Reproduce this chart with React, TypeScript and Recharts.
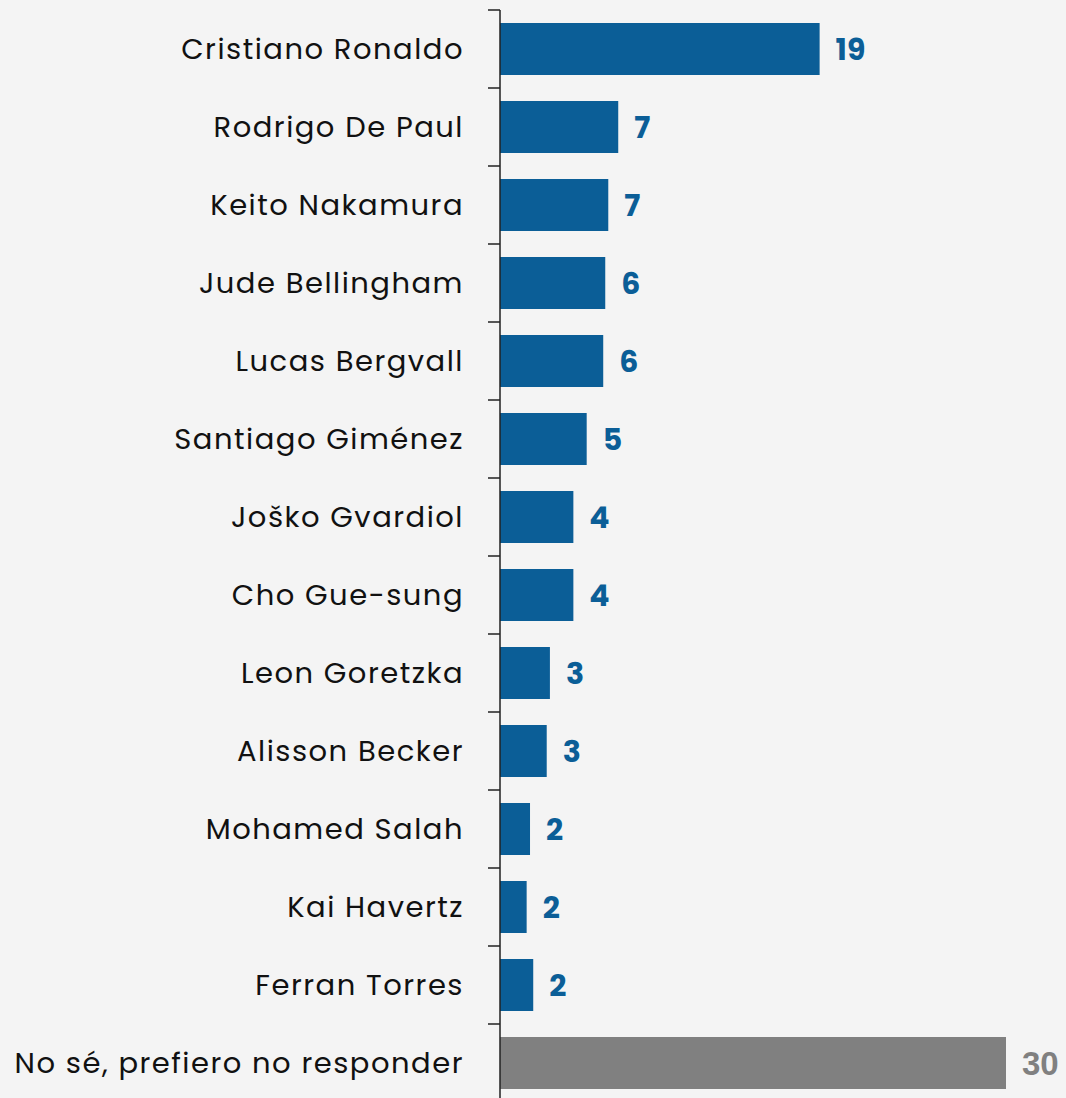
import React from "react";
import { BarChart, Bar, XAxis, YAxis, Cell, LabelList } from "recharts";

// encuesta: jugador favorito (bar lengths, labels as printed)
const players = [
  "Cristiano Ronaldo",
  "Rodrigo De Paul",
  "Keito Nakamura",
  "Jude Bellingham",
  "Lucas Bergvall",
  "Santiago Giménez",
  "Joško Gvardiol",
  "Cho Gue-sung",
  "Leon Goretzka",
  "Alisson Becker",
  "Mohamed Salah",
  "Kai Havertz",
  "Ferran Torres",
  "No sé, prefiero no responder",
];
const votes = [18.95, 7.01, 6.42, 6.24, 6.12, 5.14, 4.35, 4.35, 2.96, 2.77, 1.78, 1.58, 1.97, 30];
const shownLabels = ["19", "7", "7", "6", "6", "5", "4", "4", "3", "3", "2", "2", "2", "30"];
const xDomain = [0, 30];

const BLUE = "#0b5e97";
const GRAY = "#808080";

const W = 1066;
const H = 1102;
const TOP = 10;
const AXIS_W = 500;
const BAND = (H - TOP) / players.length;

const data = players.map((name, i) => ({ name, value: votes[i], label: shownLabels[i] }));

const isOther = (i: number) => i === players.length - 1;

const PlayerTick = (props: any) => {
  const { y, payload, index } = props;
  const top = y - BAND / 2;
  return (
    <g>
      <line x1={AXIS_W - 12} x2={AXIS_W} y1={top} y2={top} stroke="#222" strokeWidth={1.5} />
      {index === players.length - 1 && (
        <line x1={AXIS_W - 12} x2={AXIS_W} y1={top + BAND} y2={top + BAND} stroke="#222" strokeWidth={1.5} />
      )}
      <text
        x={AXIS_W - 36}
        y={y}
        textAnchor="end"
        dominantBaseline="central"
        fill="#111"
        fontSize={29}
        letterSpacing={1.5}
        fontFamily="Poppins, Inter, 'Noto Sans', sans-serif"
      >
        {payload.value}
      </text>
    </g>
  );
};

const ValueLabel = (props: any) => {
  const { x, y, width, height, index } = props;
  const other = isOther(index);
  return (
    <text
      x={x + width + 16}
      y={y + height / 2}
      dominantBaseline="central"
      fill={other ? GRAY : BLUE}
      fontSize={other ? 33 : 30}
      fontWeight={700}
      fontFamily={other ? "'Liberation Sans', Arial, sans-serif" : "Poppins, Inter, sans-serif"}
    >
      {shownLabels[index]}
    </text>
  );
};

export default function App() {
  return (
    <div
      style={{
        position: "absolute",
        left: 0,
        top: 0,
        width: W,
        height: 1098,
        overflow: "hidden",
        background: "#f4f4f4",
      }}
    >
      <BarChart
        width={W}
        height={H}
        data={data}
        layout="vertical"
        margin={{ top: TOP, right: 60, bottom: 0, left: 0 }}
      >
        <XAxis type="number" domain={xDomain} hide />
        <YAxis
          type="category"
          dataKey="name"
          width={AXIS_W}
          axisLine={{ stroke: "#222", strokeWidth: 1.5 }}
          tickLine={false}
          tick={<PlayerTick />}
          interval={0}
        />
        <Bar dataKey="value" barSize={52} isAnimationActive={false}>
          {data.map((d, i) => (
            <Cell key={d.name} fill={isOther(i) ? GRAY : BLUE} />
          ))}
          <LabelList dataKey="label" content={<ValueLabel />} />
        </Bar>
      </BarChart>
    </div>
  );
}
